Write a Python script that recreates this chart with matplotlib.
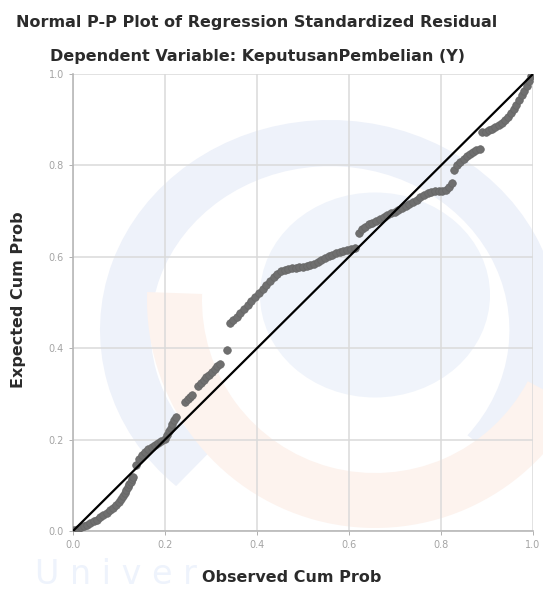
import matplotlib
matplotlib.use("Agg")
import matplotlib.pyplot as plt
from matplotlib.patches import Wedge, Ellipse
from matplotlib.transforms import Affine2D

# observed cum prob (x) vs expected cum prob (y)
obs = [0.003, 0.010, 0.017, 0.024, 0.031, 0.038, 0.045, 0.052, 0.059, 0.066,
       0.073, 0.080, 0.087, 0.093, 0.099, 0.104, 0.108, 0.112, 0.116, 0.119,
       0.122, 0.125, 0.128, 0.131,
       0.136, 0.143, 0.150, 0.157, 0.164, 0.171, 0.178, 0.185, 0.192, 0.199,
       0.204, 0.208, 0.212, 0.216, 0.220, 0.224,
       0.244, 0.249, 0.254, 0.259,
       0.272, 0.278, 0.284, 0.290, 0.296, 0.302, 0.308, 0.314, 0.320,
       0.334,
       0.341, 0.348, 0.356, 0.364, 0.372, 0.380, 0.388, 0.396, 0.404, 0.412,
       0.420, 0.428, 0.436, 0.444, 0.452, 0.460, 0.468,
       0.476, 0.484, 0.492, 0.500, 0.508, 0.516, 0.524, 0.532, 0.540, 0.548,
       0.556, 0.564, 0.572, 0.580, 0.588, 0.596, 0.604, 0.612,
       0.622, 0.628, 0.635, 0.643, 0.651, 0.659, 0.667, 0.675, 0.683, 0.691,
       0.699, 0.707, 0.715, 0.723, 0.731, 0.739, 0.747, 0.755, 0.763, 0.771,
       0.779, 0.787, 0.795, 0.803, 0.811, 0.818, 0.823,
       0.829, 0.835, 0.842, 0.849, 0.856, 0.863, 0.870, 0.877, 0.884,
       0.890, 0.897, 0.904, 0.911, 0.918, 0.925, 0.932, 0.939, 0.946, 0.952,
       0.958, 0.964, 0.970, 0.976, 0.981, 0.986, 0.991, 0.996]
exp = [0.002, 0.005, 0.008, 0.011, 0.014, 0.017, 0.021, 0.025, 0.030, 0.035,
       0.040, 0.045, 0.050, 0.056, 0.063, 0.070, 0.077, 0.084, 0.090, 0.096,
       0.102, 0.108, 0.113, 0.118,
       0.145, 0.158, 0.166, 0.173, 0.179, 0.184, 0.188, 0.192, 0.196, 0.201,
       0.210, 0.218, 0.226, 0.234, 0.242, 0.250,
       0.283, 0.288, 0.293, 0.298,
       0.318, 0.324, 0.330, 0.336, 0.342, 0.348, 0.354, 0.360, 0.366,
       0.395,
       0.455, 0.462, 0.469, 0.477, 0.485, 0.494, 0.503, 0.512, 0.521, 0.530,
       0.539, 0.548, 0.556, 0.563, 0.569, 0.572, 0.574,
       0.575, 0.576, 0.577, 0.578, 0.580, 0.582, 0.585, 0.589, 0.593, 0.597,
       0.601, 0.605, 0.608, 0.611, 0.613, 0.615, 0.617, 0.619,
       0.652, 0.660, 0.666, 0.671, 0.675, 0.679, 0.683, 0.687, 0.691, 0.695,
       0.699, 0.703, 0.707, 0.711, 0.715, 0.720, 0.725, 0.730, 0.735, 0.739,
       0.741, 0.743, 0.744, 0.745, 0.747, 0.752, 0.762,
       0.790, 0.800, 0.808, 0.815, 0.821, 0.826, 0.830, 0.833, 0.836,
       0.872, 0.874, 0.877, 0.880, 0.884, 0.888, 0.893, 0.899, 0.906, 0.914,
       0.923, 0.933, 0.943, 0.953, 0.963, 0.973, 0.984, 0.995]

ticks = [0.0, 0.2, 0.4, 0.6, 0.8, 1.0]
tick_labels = ["0.0", "0.2", "0.4", "0.6", "0.8", "1.0"]

W, H = 543, 594
fig = plt.figure(figsize=(W / 100, H / 100), dpi=100)

# faint logo watermark behind the plot (pixel coords, y up)
bg = fig.add_axes([0, 0, 1, 1], zorder=0)
bg.set_xlim(0, W)
bg.set_ylim(0, H)
bg.axis("off")
outer = Wedge((0, 0), 1, -40, 228, width=0.22, color="#eef2fa", lw=0)
outer.set_transform(Affine2D().scale(230, 210).translate(330, H - 330) + bg.transData)
bg.add_patch(outer)
bg.add_patch(Ellipse((375, H - 295), 230, 205, color="#f0f4fb", lw=0))
orange = Wedge((375, H - 300), 228, 178, 332, width=55, color="#fdf3ee", lw=0)
bg.add_patch(orange)
bg.text(35, H - 574, "U n i v e r", fontsize=24, color="#eef3fc", va="center")

ax = fig.add_axes([73 / W, 63 / H, 460 / W, 457 / H], zorder=1)
ax.set_facecolor("none")

ax.scatter(obs, exp, s=30, color="#6f6f6f", edgecolor="#666666",
           linewidth=0.5, zorder=3)
ax.plot([0, 1], [0, 1], color="black", lw=1.6, zorder=4)

ax.set_xlim(0, 1)
ax.set_ylim(0, 1)
ax.set_xticks(ticks)
ax.set_yticks(ticks)
ax.set_xticklabels(tick_labels)
ax.set_yticklabels(tick_labels)
ax.tick_params(labelsize=7, colors="#a4a4a4", length=3, width=0.6)
ax.grid(True, color="#dadada", lw=1.1)
ax.set_axisbelow(True)
for side in ["top", "right"]:
    ax.spines[side].set_visible(False)
for side in ["left", "bottom"]:
    ax.spines[side].set_color("#b8b8b8")
    ax.spines[side].set_linewidth(1.2)

txt = dict(fontsize=11.5, fontweight="bold", color="#2b2b2b",
           ha="center", va="center")
fig.text(257 / W, 1 - 22 / H, "Normal P-P Plot of Regression Standardized Residual", **txt)
fig.text(257 / W, 1 - 57 / H, "Dependent Variable: KeputusanPembelian (Y)", **txt)
fig.text(292 / W, 1 - 578 / H, "Observed Cum Prob", **txt)
fig.text(19 / W, 1 - 300 / H, "Expected Cum Prob", rotation=90, **txt)

plt.savefig("out.png", dpi=100)
